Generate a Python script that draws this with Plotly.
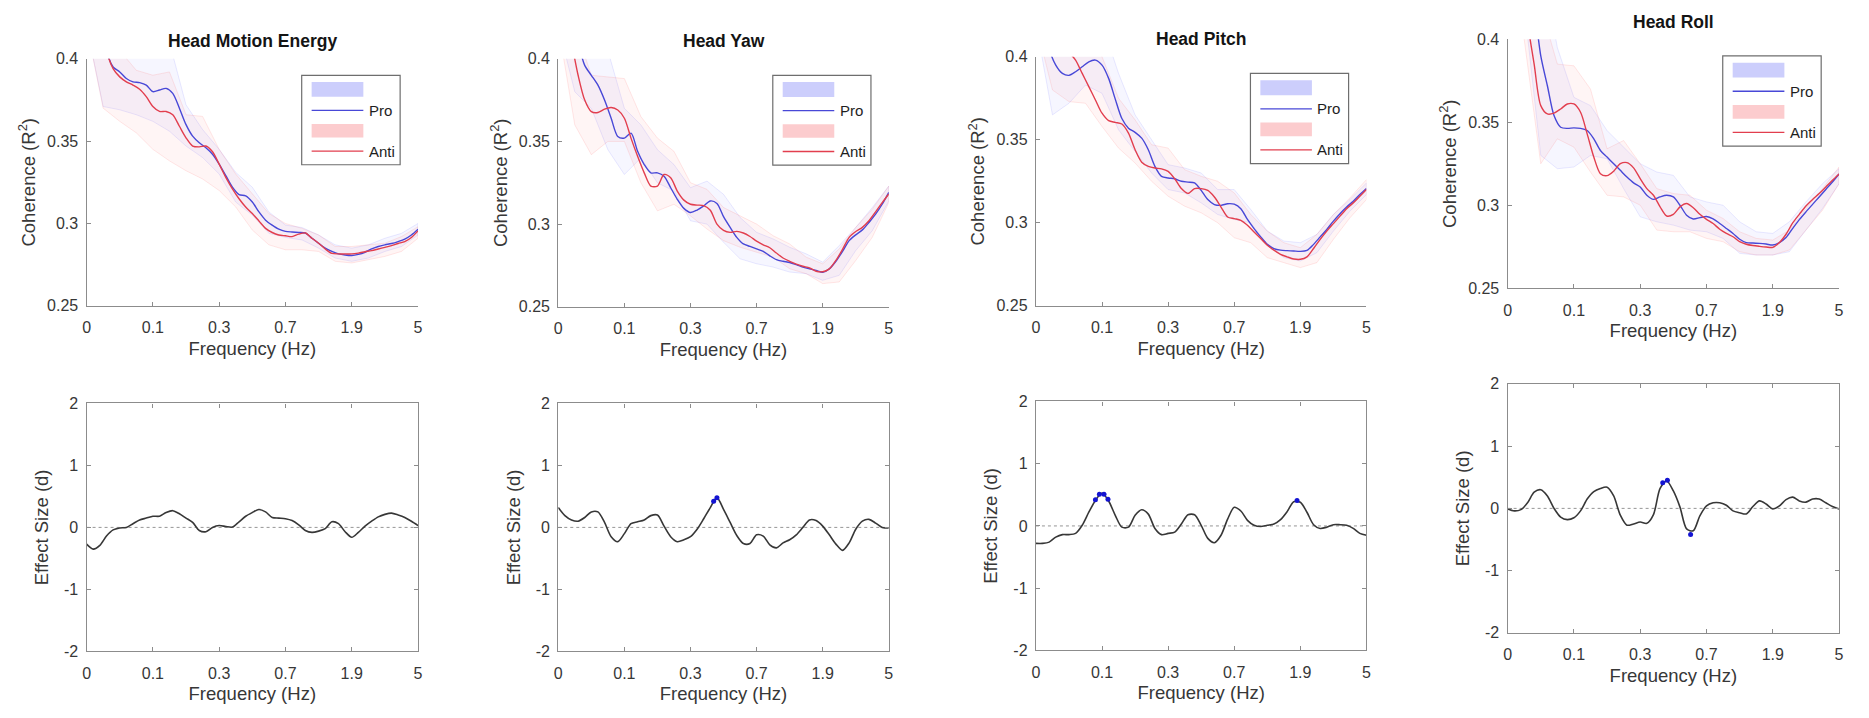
import plotly.graph_objects as go

FONT = "Liberation Sans, Arial, sans-serif"
TITLES = ["Head Motion Energy", "Head Yaw", "Head Pitch", "Head Roll"]
FREQ_TICK_POS = [0, 1, 2, 3, 4, 5]
FREQ_TICK_TEXT = ["0", "0.1", "0.3", "0.7", "1.9", "5"]
COH_TICKS = [0.25, 0.3, 0.35, 0.4]
COH_TICK_TEXT = ["0.25", "0.3", "0.35", "0.4"]
D_TICKS = [-2, -1, 0, 1, 2]
D_TICK_TEXT = ["-2", "-1", "0", "1", "2"]
LEGEND_LABELS = ["Pro", "Anti"]

# frequency positions (equally spaced tick units: 0=0, 1=0.1, 2=0.3, 3=0.7, 4=1.9, 5=5 Hz)
X_FINE = [0.0, 0.1, 0.2, 0.3, 0.4, 0.5, 0.6, 0.7, 0.8, 0.9,
          1.0, 1.1, 1.2, 1.3, 1.4, 1.5, 1.6, 1.7, 1.8, 1.9,
          2.0, 2.1, 2.2, 2.3, 2.4, 2.5, 2.6, 2.7, 2.8, 2.9,
          3.0, 3.1, 3.2, 3.3, 3.4, 3.5, 3.6, 3.7, 3.8, 3.9,
          4.0, 4.1, 4.2, 4.3, 4.4, 4.5, 4.6, 4.7, 4.8, 4.9, 5.0]
X_BAND = [0.0, 0.25, 0.5, 0.75, 1.0, 1.25, 1.5, 1.75, 2.0, 2.25, 2.5,
          2.75, 3.0, 3.25, 3.5, 3.75, 4.0, 4.25, 4.5, 4.75, 5.0]

# ---- Head Motion Energy ----
HME_PRO = [0.46, 0.45, 0.43, 0.405, 0.395, 0.392, 0.388, 0.386, 0.3855, 0.384,
           0.380, 0.381, 0.382, 0.379, 0.370, 0.360, 0.353, 0.349, 0.346, 0.342,
           0.336, 0.329, 0.322, 0.3175, 0.3168, 0.313, 0.307, 0.302, 0.299, 0.2965,
           0.2952, 0.2948, 0.2945, 0.2942, 0.291, 0.288, 0.285, 0.283, 0.2815, 0.2808,
           0.2805, 0.2812, 0.2825, 0.2845, 0.286, 0.287, 0.2878, 0.289, 0.2905, 0.293, 0.2965]
HME_ANTI = [0.46, 0.45, 0.43, 0.405, 0.394, 0.389, 0.386, 0.384, 0.3815, 0.377,
            0.371, 0.368, 0.368, 0.366, 0.359, 0.352, 0.347, 0.3465, 0.347, 0.3435,
            0.336, 0.328, 0.321, 0.315, 0.310, 0.306, 0.3015, 0.297, 0.2945, 0.293,
            0.2925, 0.292, 0.2935, 0.2942, 0.291, 0.288, 0.2845, 0.2818, 0.2815, 0.2815,
            0.2815, 0.282, 0.2828, 0.2835, 0.2845, 0.2855, 0.2865, 0.2878, 0.289, 0.2915, 0.2955]
HME_PRO_HI = [0.5, 0.48, 0.45, 0.43, 0.42, 0.41, 0.372, 0.357, 0.345, 0.331, 0.322,
              0.307, 0.299, 0.2975, 0.293, 0.287, 0.285, 0.287, 0.291, 0.294, 0.300]
HME_PRO_LO = [0.42, 0.371, 0.369, 0.366, 0.362, 0.356, 0.347, 0.340, 0.330, 0.313, 0.305,
              0.294, 0.2915, 0.290, 0.285, 0.279, 0.277, 0.279, 0.283, 0.286, 0.293]
HME_ANTI_HI = [0.48, 0.44, 0.405, 0.393, 0.39, 0.392, 0.366, 0.365, 0.345, 0.330, 0.318,
               0.306, 0.300, 0.297, 0.293, 0.286, 0.286, 0.287, 0.288, 0.292, 0.298]
HME_ANTI_LO = [0.42, 0.37, 0.362, 0.355, 0.345, 0.338, 0.332, 0.327, 0.320, 0.310, 0.296,
               0.287, 0.284, 0.284, 0.283, 0.277, 0.276, 0.278, 0.280, 0.283, 0.291]
HME_D = [-0.27, -0.35, -0.29, -0.14, -0.04, -0.01, 0.0, 0.06, 0.12, 0.15,
         0.18, 0.18, 0.24, 0.27, 0.22, 0.15, 0.08, -0.05, -0.07, 0.0,
         0.03, 0.015, 0.005, 0.09, 0.18, 0.24, 0.29, 0.25, 0.16, 0.15,
         0.14, 0.11, 0.04, -0.05, -0.08, -0.06, -0.02, 0.09, 0.06, -0.07,
         -0.16, -0.08, 0.02, 0.1, 0.17, 0.21, 0.23, 0.2, 0.16, 0.1, 0.03]
HME_SIG_X = []
HME_SIG_Y = []

# ---- Head Yaw ----
YAW_PRO = [0.47, 0.45, 0.43, 0.41, 0.396, 0.39, 0.384, 0.375, 0.364, 0.353,
           0.352, 0.355, 0.344, 0.336, 0.331, 0.331, 0.329, 0.322, 0.315, 0.3095,
           0.307, 0.3085, 0.311, 0.314, 0.3125, 0.3045, 0.298, 0.292, 0.288, 0.2865,
           0.285, 0.2835, 0.2808, 0.2785, 0.2775, 0.2768, 0.2755, 0.274, 0.273, 0.272,
           0.2709, 0.2729, 0.2775, 0.2835, 0.290, 0.2935, 0.2965, 0.301, 0.306, 0.312, 0.3192]
YAW_ANTI = [0.45, 0.43, 0.41, 0.39, 0.375, 0.368, 0.3675, 0.3695, 0.3705, 0.369,
            0.364, 0.352, 0.341, 0.331, 0.323, 0.323, 0.330, 0.328, 0.320, 0.3145,
            0.312, 0.3115, 0.3112, 0.3084, 0.300, 0.2962, 0.295, 0.2956, 0.2946, 0.2925,
            0.2897, 0.2875, 0.2857, 0.2825, 0.2795, 0.2775, 0.2758, 0.2745, 0.2735, 0.2715,
            0.2712, 0.2729, 0.278, 0.2847, 0.292, 0.2955, 0.298, 0.302, 0.3074, 0.313, 0.3182]
YAW_PRO_HI = [0.5, 0.47, 0.44, 0.405, 0.37, 0.36, 0.345, 0.336, 0.322, 0.326, 0.318,
              0.304, 0.295, 0.291, 0.286, 0.282, 0.277, 0.287, 0.298, 0.310, 0.323]
YAW_PRO_LO = [0.42, 0.38, 0.37, 0.345, 0.33, 0.34, 0.325, 0.32, 0.302, 0.30, 0.289,
              0.279, 0.276, 0.274, 0.271, 0.270, 0.266, 0.269, 0.284, 0.296, 0.314]
YAW_ANTI_HI = [0.48, 0.42, 0.39, 0.389, 0.388, 0.365, 0.352, 0.344, 0.325, 0.321, 0.310,
               0.305, 0.300, 0.293, 0.288, 0.280, 0.276, 0.285, 0.298, 0.309, 0.323]
YAW_ANTI_LO = [0.42, 0.36, 0.342, 0.35, 0.35, 0.325, 0.308, 0.312, 0.305, 0.297, 0.290,
               0.286, 0.283, 0.280, 0.273, 0.270, 0.264, 0.265, 0.278, 0.292, 0.313]
YAW_D = [0.32, 0.19, 0.12, 0.10, 0.16, 0.25, 0.25, 0.08, -0.15, -0.23,
         -0.1, 0.06, 0.09, 0.12, 0.19, 0.2, 0.02, -0.15, -0.23, -0.2,
         -0.15, -0.03, 0.14, 0.32, 0.48, 0.29, 0.08, -0.13, -0.26, -0.26,
         -0.12, -0.14, -0.28, -0.33, -0.25, -0.2, -0.12, 0.0, 0.12, 0.11,
         0.02, -0.12, -0.27, -0.37, -0.25, -0.03, 0.1, 0.13, 0.07, 0.0, -0.01]
YAW_SIG_X = [2.35, 2.40]
YAW_SIG_Y = [0.42, 0.48]

# ---- Head Pitch ----
PITCH_PRO = [0.45, 0.43, 0.405, 0.395, 0.390, 0.3888, 0.391, 0.394, 0.397, 0.398,
             0.395, 0.387, 0.3745, 0.3628, 0.357, 0.3545, 0.351, 0.344, 0.334, 0.328,
             0.327, 0.3265, 0.325, 0.3245, 0.324, 0.3195, 0.314, 0.311, 0.3105, 0.3115,
             0.3112, 0.3085, 0.302, 0.2965, 0.2915, 0.287, 0.2845, 0.2835, 0.2832, 0.283,
             0.2828, 0.2834, 0.287, 0.2915, 0.296, 0.301, 0.3055, 0.3095, 0.313, 0.317, 0.3206]
PITCH_ANTI = [0.46, 0.44, 0.43, 0.42, 0.41, 0.403, 0.398, 0.39, 0.382, 0.374,
              0.366, 0.3615, 0.3605, 0.3595, 0.354, 0.344, 0.3365, 0.334, 0.333, 0.3325,
              0.331, 0.3265, 0.3206, 0.3177, 0.3206, 0.3206, 0.3195, 0.3155, 0.3095, 0.3035,
              0.3025, 0.3015, 0.2985, 0.2945, 0.2905, 0.2865, 0.2835, 0.281, 0.2795, 0.2782,
              0.278, 0.2795, 0.2845, 0.290, 0.295, 0.2995, 0.304, 0.3085, 0.312, 0.316, 0.32]
PITCH_PRO_HI = [0.5, 0.48, 0.46, 0.44, 0.42, 0.39, 0.365, 0.35, 0.335, 0.333, 0.33,
                0.32, 0.32, 0.308, 0.295, 0.289, 0.288, 0.293, 0.305, 0.314, 0.324]
PITCH_PRO_LO = [0.42, 0.365, 0.372, 0.383, 0.378, 0.356, 0.343, 0.33, 0.32, 0.318, 0.312,
                0.305, 0.302, 0.30, 0.287, 0.279, 0.277, 0.282, 0.295, 0.307, 0.317]
PITCH_ANTI_HI = [0.5, 0.48, 0.45, 0.42, 0.40, 0.375, 0.362, 0.347, 0.345, 0.332, 0.328,
                 0.325, 0.318, 0.305, 0.295, 0.288, 0.285, 0.293, 0.305, 0.315, 0.326]
PITCH_ANTI_LO = [0.42, 0.38, 0.373, 0.372, 0.358, 0.345, 0.336, 0.325, 0.316, 0.31, 0.306,
                 0.30, 0.291, 0.288, 0.279, 0.276, 0.273, 0.276, 0.29, 0.303, 0.314]
PITCH_D = [-0.28, -0.28, -0.26, -0.18, -0.14, -0.14, -0.12, 0.01, 0.22, 0.41,
           0.53, 0.40, 0.17, -0.02, -0.02, 0.17, 0.26, 0.19, -0.04, -0.14,
           -0.12, -0.10, 0.03, 0.18, 0.18, 0.01, -0.2, -0.27, -0.15, 0.11,
           0.30, 0.24, 0.09, 0.01, -0.01, 0.01, 0.03, 0.1, 0.23, 0.39,
           0.38, 0.22, 0.02, -0.04, -0.02, 0.02, 0.02, 0.01, -0.04, -0.12, -0.15]
PITCH_SIG_X = [0.90, 0.96, 1.03, 1.09, 3.95]
PITCH_SIG_Y = [0.42, 0.51, 0.51, 0.43, 0.41]

# ---- Head Roll ----
ROLL_PRO = [0.5, 0.48, 0.46, 0.44, 0.42, 0.39, 0.372, 0.354, 0.347, 0.3463,
            0.3466, 0.3463, 0.345, 0.340, 0.333, 0.329, 0.325, 0.321, 0.317, 0.3135,
            0.311, 0.306, 0.3035, 0.305, 0.306, 0.305, 0.300, 0.294, 0.2917, 0.2925,
            0.2932, 0.2918, 0.289, 0.286, 0.283, 0.2795, 0.2775, 0.2772, 0.277, 0.2766,
            0.276, 0.2775, 0.2805, 0.286, 0.2913, 0.296, 0.3005, 0.305, 0.3095, 0.314, 0.3188]
ROLL_ANTI = [0.48, 0.46, 0.44, 0.41, 0.385, 0.36, 0.355, 0.3555, 0.358, 0.361,
             0.361, 0.356, 0.343, 0.329, 0.319, 0.3178, 0.3205, 0.325, 0.3257, 0.3225,
             0.316, 0.310, 0.306, 0.299, 0.2935, 0.2945, 0.299, 0.301, 0.2985, 0.2945,
             0.2915, 0.289, 0.2855, 0.283, 0.281, 0.278, 0.2765, 0.2757, 0.2752, 0.2748,
             0.2746, 0.2775, 0.2825, 0.2893, 0.2945, 0.2995, 0.3035, 0.307, 0.311, 0.315, 0.3188]
ROLL_PRO_HI = [0.5, 0.48, 0.45, 0.395, 0.365, 0.36, 0.345, 0.335, 0.325, 0.32, 0.318,
               0.305, 0.302, 0.300, 0.29, 0.284, 0.283, 0.29, 0.302, 0.313, 0.322]
ROLL_PRO_LO = [0.42, 0.42, 0.33, 0.322, 0.323, 0.33, 0.328, 0.31, 0.293, 0.29, 0.288,
               0.285, 0.284, 0.28, 0.271, 0.27, 0.27, 0.272, 0.285, 0.298, 0.313]
ROLL_ANTI_HI = [0.5, 0.47, 0.42, 0.385, 0.384, 0.37, 0.334, 0.339, 0.325, 0.31, 0.307,
                0.306, 0.297, 0.292, 0.284, 0.28, 0.279, 0.285, 0.298, 0.31, 0.323]
ROLL_ANTI_LO = [0.42, 0.40, 0.325, 0.34, 0.335, 0.32, 0.306, 0.305, 0.30, 0.285, 0.284,
                0.284, 0.28, 0.278, 0.272, 0.27, 0.27, 0.273, 0.285, 0.297, 0.313]
ROLL_D = [-0.01, -0.04, -0.02, 0.09, 0.26, 0.30, 0.20, 0.0, -0.14, -0.18,
          -0.15, -0.04, 0.15, 0.27, 0.32, 0.34, 0.20, -0.11, -0.27, -0.25,
          -0.22, -0.24, -0.10, 0.32, 0.44, 0.28, 0.02, -0.33, -0.36, -0.12,
          0.04, 0.09, 0.09, 0.05, -0.04, -0.07, -0.09, 0.03, 0.12, 0.07,
          -0.01, 0.04, 0.14, 0.18, 0.12, 0.10, 0.15, 0.15, 0.09, 0.03, -0.01]
ROLL_SIG_X = [2.34, 2.41, 2.76]
ROLL_SIG_Y = [0.41, 0.45, -0.42]

PANELS = [
    (HME_PRO, HME_ANTI, HME_PRO_HI, HME_PRO_LO, HME_ANTI_HI, HME_ANTI_LO, HME_D, HME_SIG_X, HME_SIG_Y),
    (YAW_PRO, YAW_ANTI, YAW_PRO_HI, YAW_PRO_LO, YAW_ANTI_HI, YAW_ANTI_LO, YAW_D, YAW_SIG_X, YAW_SIG_Y),
    (PITCH_PRO, PITCH_ANTI, PITCH_PRO_HI, PITCH_PRO_LO, PITCH_ANTI_HI, PITCH_ANTI_LO, PITCH_D, PITCH_SIG_X, PITCH_SIG_Y),
    (ROLL_PRO, ROLL_ANTI, ROLL_PRO_HI, ROLL_PRO_LO, ROLL_ANTI_HI, ROLL_ANTI_LO, ROLL_D, ROLL_SIG_X, ROLL_SIG_Y),
]

# ---- layout geometry ----
W, H = 1869, 718
TOP_X = [(0.0444, 0.2226), (0.2980, 0.4757), (0.5548, 0.7325), (0.8084, 0.9866)]
TOP_Y = [(0.5752, 0.9276), (0.5738, 0.9276), (0.5752, 0.9304), (0.6003, 0.9554)]
BOT_Y = [(0.0822, 0.4359), (0.0822, 0.4359), (0.0836, 0.4387), (0.1086, 0.4638)]

BLUE = "rgb(72,72,215)"
RED = "rgb(226,62,78)"
BLUE_FILL = "rgba(125,125,255,0.07)"
BLUE_EDGE = "rgba(125,125,255,0.16)"
RED_FILL = "rgba(255,115,115,0.07)"
RED_EDGE = "rgba(255,115,115,0.16)"
AXIS_COL = "rgb(140,140,140)"
TEXT_COL = "rgb(55,55,55)"


def ref(prefix, n):
    return prefix if n == 1 else f"{prefix}{n}"


def px(dom, f):
    return dom[0] + f * (dom[1] - dom[0])


fig = go.Figure()
layout = dict(
    width=W, height=H, margin=dict(l=0, r=0, t=0, b=0, pad=0),
    paper_bgcolor="white", plot_bgcolor="white", showlegend=False,
    font=dict(family=FONT, color=TEXT_COL),
)
shapes = []
annotations = []

for i, (pro, anti, phi, plo, ahi, alo, dvals, sx, sy) in enumerate(PANELS):
    nt, nb = i + 1, i + 5
    xt, yt, xb, yb = ref("x", nt), ref("y", nt), ref("x", nb), ref("y", nb)

    # bands
    for hi, lo, fc, ec in ((phi, plo, BLUE_FILL, BLUE_EDGE), (ahi, alo, RED_FILL, RED_EDGE)):
        fig.add_trace(go.Scatter(
            x=X_BAND + X_BAND[::-1], y=hi + lo[::-1], xaxis=xt, yaxis=yt,
            mode="lines", fill="toself", fillcolor=fc,
            line=dict(color=ec, width=1), hoverinfo="skip"))
    # means
    for vals, col, name in ((pro, BLUE, LEGEND_LABELS[0]), (anti, RED, LEGEND_LABELS[1])):
        fig.add_trace(go.Scatter(
            x=X_FINE, y=vals, xaxis=xt, yaxis=yt, mode="lines", name=name,
            line=dict(color=col, width=1.4, shape="spline", smoothing=0.8)))
    # effect size
    fig.add_trace(go.Scatter(
        x=X_FINE, y=dvals, xaxis=xb, yaxis=yb, mode="lines", name="Effect size",
        line=dict(color="rgb(55,55,55)", width=1.6, shape="spline", smoothing=0.8)))
    if sx:
        fig.add_trace(go.Scatter(
            x=sx, y=sy, xaxis=xb, yaxis=yb, mode="markers", name="significant",
            marker=dict(color="rgb(20,20,210)", size=5)))

    common_x = dict(range=[0, 5], tickvals=FREQ_TICK_POS, ticktext=FREQ_TICK_TEXT,
                    showline=True, linecolor=AXIS_COL, linewidth=1.3,
                    ticks="inside", ticklen=4, tickcolor=AXIS_COL, tickwidth=1,
                    showgrid=False, zeroline=False,
                    tickfont=dict(size=16, color=TEXT_COL, family=FONT),
                    ticklabelstandoff=7,
                    title=dict(text="Frequency (Hz)", font=dict(size=18.5, color=TEXT_COL, family=FONT),
                               standoff=6))
    common_y = dict(showline=True, linecolor=AXIS_COL, linewidth=1.3,
                    ticks="inside", ticklen=4, tickcolor=AXIS_COL, tickwidth=1,
                    showgrid=False, zeroline=False,
                    tickfont=dict(size=16, color=TEXT_COL, family=FONT),
                    ticklabelstandoff=4)

    layout[ref("xaxis", nt)] = dict(common_x, domain=list(TOP_X[i]), anchor=yt, mirror=False)
    layout[ref("yaxis", nt)] = dict(common_y, domain=list(TOP_Y[i]), anchor=xt, mirror=False,
                                    range=[0.25, 0.4], tickvals=COH_TICKS, ticktext=COH_TICK_TEXT,
                                    title=dict(text="Coherence (R<sup>2</sup>)",
                                               font=dict(size=18.5, color=TEXT_COL, family=FONT),
                                               standoff=6))
    layout[ref("xaxis", nb)] = dict(common_x, domain=list(TOP_X[i]), anchor=yb, mirror="ticks")
    layout[ref("yaxis", nb)] = dict(common_y, domain=list(BOT_Y[i]), anchor=xb, mirror="ticks",
                                    range=[-2, 2], tickvals=D_TICKS, ticktext=D_TICK_TEXT,
                                    title=dict(text="Effect Size (d)",
                                               font=dict(size=18.5, color=TEXT_COL, family=FONT),
                                               standoff=10))

    # zero reference line
    shapes.append(dict(type="line", xref=f"{xb} domain", yref=yb, x0=0, x1=1, y0=0, y1=0,
                       line=dict(color="rgb(150,150,150)", width=1, dash="dot"), layer="below"))

    # panel title
    annotations.append(dict(text=f"<b>{TITLES[i]}</b>", xref="paper", yref="paper",
                            x=(TOP_X[i][0] + TOP_X[i][1]) / 2, y=TOP_Y[i][1] + 18 / H,
                            xanchor="center", yanchor="middle", showarrow=False,
                            font=dict(size=17.5, color="rgb(20,20,20)", family=FONT)))

    # legend box (manual, MATLAB style), in paper coordinates
    dxm, dym = TOP_X[i], TOP_Y[i]
    shapes.append(dict(type="rect", xref="paper", yref="paper",
                       x0=px(dxm, 0.649), x1=px(dxm, 0.946), y0=px(dym, 0.571), y1=px(dym, 0.933),
                       line=dict(color="rgb(110,110,110)", width=1.2), fillcolor="white"))
    shapes.append(dict(type="rect", xref="paper", yref="paper",
                       x0=px(dxm, 0.679), x1=px(dxm, 0.835), y0=px(dym, 0.846), y1=px(dym, 0.906),
                       line=dict(width=0), fillcolor="rgb(204,206,252)"))
    shapes.append(dict(type="line", xref="paper", yref="paper",
                       x0=px(dxm, 0.679), x1=px(dxm, 0.835), y0=px(dym, 0.791), y1=px(dym, 0.791),
                       line=dict(color=BLUE, width=1.4)))
    shapes.append(dict(type="rect", xref="paper", yref="paper",
                       x0=px(dxm, 0.679), x1=px(dxm, 0.835), y0=px(dym, 0.681), y1=px(dym, 0.736),
                       line=dict(width=0), fillcolor="rgb(252,204,206)"))
    shapes.append(dict(type="line", xref="paper", yref="paper",
                       x0=px(dxm, 0.679), x1=px(dxm, 0.835), y0=px(dym, 0.626), y1=px(dym, 0.626),
                       line=dict(color=RED, width=1.4)))
    for lab, yy in ((LEGEND_LABELS[0], 0.791), (LEGEND_LABELS[1], 0.626)):
        annotations.append(dict(text=lab, xref="paper", yref="paper", x=px(dxm, 0.845), y=px(dym, yy),
                                xanchor="left", yanchor="middle", showarrow=False,
                                font=dict(size=15, color="rgb(30,30,30)", family=FONT)))

layout["shapes"] = shapes
layout["annotations"] = annotations
fig.update_layout(**layout)
fig.write_html("out.html", config={"displayModeBar": False},
               post_script="document.body.style.margin='0px';document.body.style.overflow='hidden';")
